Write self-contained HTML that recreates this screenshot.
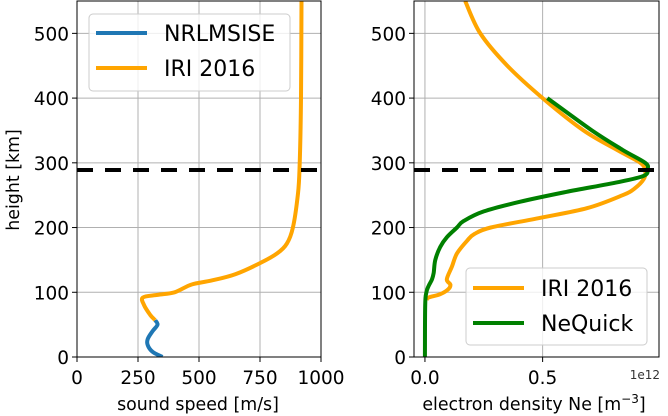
<!DOCTYPE html>
<html><head><meta charset="utf-8"><style>
html,body{margin:0;padding:0;background:#fff;}
svg{display:block;font-family:"DejaVu Sans","Liberation Sans",sans-serif;}
</style></head><body>
<svg id="c" width="668" height="416" viewBox="0 0 668 416"></svg>
<script>
const yTicks=[0,100,200,300,400,500];
const leftXTicks=[0,250,500,750,1000];
const leftXTickLabels=["0","250","500","750","1000"];
const rightXTicks=[0,0.5];
const rightXTickLabels=["0.0","0.5"];
const peakHeight=289;
const nrlHeights=[0,8,18,28,40,50,57];
const nrlSpeed=[350,310,290,290,310,330,320];
const iriHeights=[57,65,80,92,96,100,112,118,128,145,160,175,200,250,290,400,550];
const iriSpeed=[320,300,275,270,330,400,470,550,650,750,820,860,885,905,912,918,920];
const iriNeHeights=[89,92,97,105,112,120,140,160,180,190,200,215,230,250,260,275,288,300,320,350,400,450,500,550];
const iriNe=[0.008,0.016,0.065,0.10,0.108,0.093,0.115,0.136,0.18,0.21,0.28,0.49,0.69,0.84,0.89,0.93,0.936,0.915,0.816,0.674,0.5,0.35,0.235,0.171];
const nqHeights=[0,80,100,110,120,130,150,170,185,200,210,225,240,255,270,280,290,300,320,350,400];
const nqNe=[0,0.001,0.006,0.016,0.03,0.037,0.044,0.065,0.093,0.136,0.164,0.25,0.405,0.60,0.82,0.93,0.946,0.936,0.84,0.71,0.52];

const svg=document.getElementById('c');const NS='http://www.w3.org/2000/svg';
function mk(t,a,p){const e=document.createElementNS(NS,t);for(const k in a)e.setAttribute(k,a[k]);(p||svg).appendChild(e);return e;}
const yTop=1,yBot=357;
const Y=v=>yBot-(v/550)*(yBot-yTop);
const L={x0:77,x1:321,min:0,max:1000};
const R={x0:414,x1:659,min:-0.0465,max:0.9945};
const X=(ax,v)=>ax.x0+(v-ax.min)/(ax.max-ax.min)*(ax.x1-ax.x0);
function axes(ax,xt,xl,name){
  const g=mk('g',{});
  
  
  yTicks.forEach(t=>{mk('line',{x1:ax.x0,x2:ax.x1,y1:Y(t),y2:Y(t),stroke:'#b0b0b0','stroke-width':1},g);
    mk('line',{x1:ax.x0-5,x2:ax.x0,y1:Y(t),y2:Y(t),stroke:'#000','stroke-width':1},g);
    const tx=mk('text',{x:ax.x0-8,y:Y(t)+7,'text-anchor':'end','font-size':18.5,fill:'#000'},g);tx.textContent=t;
    
    });
  xt.forEach((t,i)=>{const x=X(ax,t);mk('line',{x1:x,x2:x,y1:yTop,y2:yBot,stroke:'#b0b0b0','stroke-width':1},g);
    mk('line',{x1:x,x2:x,y1:yBot,y2:yBot+5,stroke:'#000','stroke-width':1},g);
    const tx=mk('text',{x:x,y:yBot+27,'text-anchor':'middle','font-size':18.5,fill:'#000'},g);tx.textContent=xl[i];
    
    });
  return g;
}
function line(ax,xs,ys,col,name){
  const P=xs.map((v,i)=>[X(ax,v),Y(ys[i])]);
  let d='M'+P[0][0].toFixed(1)+','+P[0][1].toFixed(1);
  for(let i=0;i<P.length-1;i++){
    const p0=P[i?i-1:0],p1=P[i],p2=P[i+1],p3=P[i+2<P.length?i+2:i+1];
    const c1=[p1[0]+(p2[0]-p0[0])/6,p1[1]+(p2[1]-p0[1])/6];
    const c2=[p2[0]-(p3[0]-p1[0])/6,p2[1]-(p3[1]-p1[1])/6];
    d+=' C'+c1.map(n=>n.toFixed(1)).join(',')+' '+c2.map(n=>n.toFixed(1)).join(',')+' '+p2[0].toFixed(1)+','+p2[1].toFixed(1);
  }
  const p=mk('path',{d:d,fill:'none',stroke:col,'stroke-width':4,'stroke-linejoin':'round','clip-path':ax===L?'url(#cl)':'url(#cr)'});
  
  
}
function frame(ax){mk('rect',{x:ax.x0,y:yTop,width:ax.x1-ax.x0,height:yBot-yTop,fill:'none',stroke:'#000','stroke-width':1});}
function dash(ax,name){const p=mk('line',{x1:ax.x0,x2:ax.x1,y1:Y(peakHeight),y2:Y(peakHeight),stroke:'#000','stroke-width':4,'stroke-dasharray':'16,12'});
  
  }
const defs=mk('defs',{});
const clipL=mk('clipPath',{id:'cl'},defs);mk('rect',{x:L.x0,y:yTop,width:L.x1-L.x0,height:yBot-yTop},clipL);
const clipR=mk('clipPath',{id:'cr'},defs);mk('rect',{x:R.x0,y:yTop,width:R.x1-R.x0,height:yBot-yTop},clipR);
axes(L,leftXTicks,leftXTickLabels,'left-axes');
line(L,nrlSpeed,nrlHeights,'#1f77b4','nrlmsise-line');
line(L,iriSpeed,iriHeights,'#ffa500','iri-sound-line');
dash(L,'left-peak-height-line');
frame(L);
axes(R,rightXTicks,rightXTickLabels,'right-axes');
line(R,iriNe,iriNeHeights,'#ffa500','iri-density-line');
line(R,nqNe,nqHeights,'#008000','nequick-line');
dash(R,'right-peak-height-line');
frame(R);
</script>
<svg style="position:absolute;left:0;top:0" width="668" height="416">
<text x="19" y="180" transform="rotate(-90 19 180)" text-anchor="middle" font-size="17.4" font-family="DejaVu Sans, Liberation Sans, sans-serif">height [km]</text>
<text x="198" y="410" text-anchor="middle" font-size="17.4" font-family="DejaVu Sans, Liberation Sans, sans-serif">sound speed [m/s]</text>
<text x="534" y="410" text-anchor="middle" font-size="17.4" font-family="DejaVu Sans, Liberation Sans, sans-serif">electron density Ne [m<tspan dy="-7" font-size="12">−3</tspan><tspan dy="7">]</tspan></text>
<text x="660" y="379" text-anchor="end" font-size="12" fill="#333" font-family="DejaVu Sans, Liberation Sans, sans-serif">1e12</text>
<g>
<rect x="89" y="14" width="201" height="77" rx="4" fill="#fff" fill-opacity="0.8" stroke="#ccc"/>
<line x1="96" x2="147" y1="33" y2="33" stroke="#1f77b4" stroke-width="4"/>
<text x="164" y="41" font-size="22" font-family="DejaVu Sans, Liberation Sans, sans-serif">NRLMSISE</text>
<line x1="96" x2="147" y1="68" y2="68" stroke="#ffa500" stroke-width="4"/>
<text x="164" y="76" font-size="22" font-family="DejaVu Sans, Liberation Sans, sans-serif">IRI 2016</text>
</g>
<g>
<rect x="466" y="268" width="181" height="77" rx="4" fill="#fff" fill-opacity="0.8" stroke="#ccc"/>
<line x1="473" x2="524" y1="288" y2="288" stroke="#ffa500" stroke-width="4"/>
<text x="541" y="296" font-size="22" font-family="DejaVu Sans, Liberation Sans, sans-serif">IRI 2016</text>
<line x1="473" x2="524" y1="323" y2="323" stroke="#008000" stroke-width="4"/>
<text x="541" y="331" font-size="22" font-family="DejaVu Sans, Liberation Sans, sans-serif">NeQuick</text>
</g>
</svg>
</body></html>
